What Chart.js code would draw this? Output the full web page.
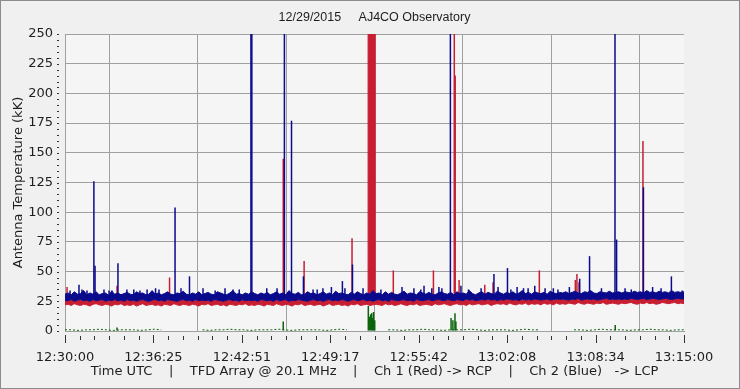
<!DOCTYPE html>
<html>
<head>
<meta charset="utf-8">
<script src="https://cdn.jsdelivr.net/npm/chart.js@4.4.1/dist/chart.umd.min.js"></script>
<style>
html,body{margin:0;padding:0;background:#f0f0f0;}
#wrap{width:740px;height:389px;position:relative;}
</style>
</head>
<body>
<div id="wrap"><canvas id="c" width="740" height="389"></canvas></div>
<script>
// ---------------- DATA ----------------
const chartTitle = '12/29/2015     AJ4CO Observatory';
const xAxisTitle = 'Time UTC    |    TFD Array @ 20.1 MHz    |    Ch 1 (Red) -> RCP    |    Ch 2 (Blue)   -> LCP';
const yAxisTitle = 'Antenna Temperature (kK)';
const xTickLabels = ['12:30:00','12:36:25','12:42:51','12:49:17','12:55:42','13:02:08','13:08:34','13:15:00'];
const spanSeconds = 2700;            // 12:30:00 -> 13:15:00
const yMax = 250;
const yStep = 25;

// Noise envelope samples (kK), evenly spaced over the 45 minutes
const bandStepSec = 2700 / 199;
const blueHigh = [
31,32,30.5,33,31,31.5,34,30.5,32,31,33,30.5,31.5,32,30,33.5,31,32,30.5,31.5,
32.5,31,30.5,33,31.5,32,30.5,31,34,31,32,30.5,31.5,33,31,30.5,32,31.5,33.5,31,
30.5,32,31,33,30.5,31.5,32.5,31,30.5,33,32,31,30.5,32,34,31,31.5,30.5,32,31,
33,31.5,30.5,32,31,32.5,30.5,31.5,33,31,32,30.5,34,31.5,31,32.5,30.5,31,33,31.5,
32,30.5,31.5,33,31,32,30.5,33.5,31.5,32,31,30.5,32.5,31,33,31.5,30.5,32,31,34,
31.5,32,30.5,33,31,32.5,31,30.5,32,33.5,31,32,31.5,30.5,33,32,31,32.5,31,30.5,
32,33,31.5,31,32.5,30.5,33,31.5,32,31,34,31.5,30.5,32,33,31,32.5,31.5,31,33.5,
32,31,32.5,31.5,33,31,32,34,31.5,32.5,31,33,32,31.5,32.5,31,33.5,32,31.5,32.5,
32,33,31.5,32.5,33.5,32,31.5,33,32.5,34,32,31.5,33,32.5,32,33.5,32,32.5,33,32,
33,32.5,32,33.5,32.5,33,32,34,32.5,33,32,33.5,32.5,33,32,34,32.5,33,32.5,33
];
const blueLow = [
26,25.5,26.5,25,26,26.5,25.5,26,25,26.5,25.5,26,26.5,25,26,25.5,26.5,25.5,26,25,
26.5,25.5,26,25,26,26.5,25.5,25,26,26.5,25.5,26,25,26.5,26,25.5,25,26,26.5,25.5,
26,25,26.5,25.5,26,25.5,26,25,26.5,26,25.5,25,26,26.5,25.5,26,25,26.5,25.5,26,
25.5,26,25,26.5,26,25.5,26,25,26.5,25.5,26,26.5,25,26,25.5,26.5,26,25.5,25,26,
26.5,25.5,26,25,26,26.5,25.5,26,25.5,26.5,26,25,26,26.5,25.5,26,26.5,25.5,26,25,
26,26.5,25.5,26,25,26.5,26,25.5,26,26.5,25.5,26,25,26.5,26,25.5,26,26.5,25.5,26,
26.5,26,25.5,26.5,26,25.5,26.5,26,25.5,27,26,26.5,25.5,26,26.5,26,27,26,26.5,25.5,
26.5,26,27,26.5,26,26.5,25.5,27,26,26.5,26,27,26.5,26,26.5,27,26,26.5,27,26.5,
27,26.5,26,27,26.5,27.5,26,26.5,27,26.5,27,26,26.5,27,27.5,26.5,27,26.5,27,26.5,
27,26.5,27.5,27,26.5,27,27.5,26.5,27,27.5,27,26.5,27,27.5,27,26.5,27,27.5,27,27
];
const redLow = [
22,22.5,21.5,23,22,21.5,22.5,22,21,22.5,23,22,21.5,22.5,22,21,22.5,22,23,21.5,
22,21.5,22.5,21,22,23,21.5,22,22.5,21.5,22,21,22.5,22,21.5,23,22,21.5,22.5,22,
21.5,22.5,22,21,22.5,22,23,21.5,22,22.5,21.5,22,21,22.5,22,21.5,22.5,22,23,21.5,
22,21.5,22.5,22,21,22.5,22,21.5,23,22,21.5,22.5,22,21,22.5,22,23,21.5,22,22.5,
21.5,22,22.5,21,22,23,21.5,22,22.5,21.5,22,21,22.5,22,23,21.5,22,22.5,21.5,22,
22.5,22,21.5,23,22,22.5,21.5,22,23,22,21.5,22.5,22,23,21.5,22,22.5,22,21.5,23,
22,22.5,23,22,21.5,22.5,23,22,22.5,21.5,23,22,22.5,23,22,22.5,23,21.5,22.5,23,
22.5,23,22,23.5,22.5,22,23,22.5,23.5,22,23,22.5,23,22,23.5,22.5,23,22,23.5,22.5,
23,22.5,23.5,23,22.5,24,23,22.5,23.5,23,22.5,23.5,23,24,22.5,23,23.5,23,22.5,23.5,
23,23.5,24,23,22.5,23.5,23,24,23,23.5,22.5,23,24,23.5,23,23.5,24,23,23.5,23
];

// Spikes: seconds after 12:30:00 and peak value (kK); >250 = off scale
const blueSpikeBase = 28;
const blueSpikeTimes = [61,126,131,231,300,395,480,543,602,655,698,760,811,815,880,957,988,1040,1100,1162,1210,1254,1300,1470,1552,1566,1600,1644,1681,1760,1871,1930,1972,2000,2049,2130,2200,2245,2288,2340,2399,2406,2470,2523,2563,2600,2645];
const blueSpikePeaks = [39,126,55,57,35,36,104,46,36,34,36,35,300,300,36,300,177,46,35,37,42,56,36,37,35,38,36,36,300,35,48,53,37,36,38,36,37,44,63,36,300,77,35,121,37,36,46];
const blueSmallSpikeTimes = [22,74,96,170,192,205,270,327,358,410,506,733,925,1082,1125,1221,1378,1522,1631,1727,1815,1889,1945,2020,2094,2150,2443,2692];
const blueSmallSpikePeaks = [34,35,34,35,34,34,35,34,35,35,36,35,36,35,36,36,35,36,37,38,36,37,35,36,36,35,36,34];

const redSpikeBase = 24;
const redSpikeTimes = [9,227,456,952,1043,1252,1432,1607,1698,1702,1719,1831,1867,2069,2226,2233,2242,2521];
const redSpikePeaks = [37,38,45,145,59,78,51,51,300,215,43,39,41,51,43,48,41,160];

// Red channel saturated interval
const redSatTimes = [1322,1322,1352,1352];
const redSatValues = [23,300,300,23];

// Ch 3 (green) baseline, one sample per 30 s, null = no data
const greenStepSec = 30;
const greenBase = [
1,1,0.5,1,1,1.5,1,0.5,1,1,1,0.5,1,1.5,1,
null,null,null,null,null,
1,0.5,1,1,1.5,1,1,0.5,1,1,1,1.5,1,0.5,1,1,1,1,0.5,1,1.5,1,
null,null,null,null,null,
1,1,0.5,1,1,1.5,1,1,0.5,1,1,1,1.5,1,0.5,1,1,1,0.5,1,1.5,1,1,
null,null,null,null,
1,1,0.5,1,1.5,1,1,1,0.5,1,1,1.5,1,1,0.5,1,1
];
const greenSpikeTimes = [227,952,1323,1327,1333,1338,1342,1346,1351,1684,1692,1701,1705,2400];
const greenSpikePeaks = [3,8,21,12,14,15,11,16,9,11,9,15,8,5];

// ---------------- BUILD ----------------
const BLUE = '#0a0a8c', RED = '#c81e32', GREEN = '#0b640b';
const txt = '#1e1e1e';
const axisFont = {family: "'DejaVu Sans', Verdana, sans-serif", size: 13};

const bandPts = arr => arr.map((v, i) => ({x: i * bandStepSec, y: v}));
const spikePts = (times, peaks, base) => times.map((t, i) => ({x: t, y: [base, peaks[i]]}));
const greenPts = greenBase.map((v, i) => ({x: i * greenStepSec, y: v}));
const satPts = redSatTimes.map((t, i) => ({x: t, y: redSatValues[i]}));

const spikeOpts = {type: 'bar', grouped: false, barPercentage: 10, categoryPercentage: 1, maxBarThickness: 1.5, borderWidth: 0};

const decor = {
  id: 'decor',
  beforeDraw(chart) {
    const {ctx, chartArea: a, width, height} = chart;
    ctx.save();
    ctx.fillStyle = '#f0f0f0';
    ctx.fillRect(0, 0, width, height);
    ctx.fillStyle = '#f5f5f5';
    ctx.fillRect(a.left, a.top, a.right - a.left, a.bottom - a.top);
    ctx.restore();
  },
  afterDraw(chart) {
    const {ctx, chartArea: a, scales: {x, y}, width, height} = chart;
    ctx.save();
    ctx.fillStyle = txt;
    ctx.font = "12.5px 'Liberation Sans', Arial, sans-serif";
    ctx.textAlign = 'center';
    ctx.textBaseline = 'middle';
    ctx.fillText(chartTitle, (a.left + a.right) / 2, 18);
    ctx.fillStyle = '#333';
    const nx = (xTickLabels.length - 1) * 6;
    for (let i = 0; i <= nx; i++) {
      const px = Math.round(x.getPixelForValue(i * spanSeconds / nx));
      if (i % 6 === 0) ctx.fillRect(px, a.bottom + 4, 1, 8);
      else ctx.fillRect(px, a.bottom + 5, 1, 4);
    }
    for (let v = 0; v <= yMax; v += 5) {
      const py = Math.round(y.getPixelForValue(v));
      ctx.fillRect(a.left - 8, py, 2, 1);
    }
    ctx.strokeStyle = '#8c8c8c';
    ctx.lineWidth = 1;
    ctx.strokeRect(0.5, 0.5, width - 1, height - 1);
    ctx.restore();
  }
};

new Chart(document.getElementById('c'), {
  type: 'line',
  data: {
    datasets: [
      {label: 'Ch 1 saturated', data: satPts, borderColor: RED, backgroundColor: RED, borderWidth: 1, pointRadius: 0, fill: {value: 23}, order: 9},
      {label: 'Ch 1 (RCP) low', data: bandPts(redLow), borderColor: RED, backgroundColor: RED, borderWidth: 1, pointRadius: 0, tension: 0, fill: 4, order: 8},
      Object.assign({label: 'Ch 1 spikes', data: spikePts(redSpikeTimes, redSpikePeaks, redSpikeBase), backgroundColor: RED, order: 7}, spikeOpts),
      {label: 'Ch 2 (LCP) high', data: bandPts(blueHigh), borderColor: BLUE, backgroundColor: BLUE, borderWidth: 1, pointRadius: 0, tension: 0, fill: '+1', order: 5},
      {label: 'Ch 2 (LCP) low', data: bandPts(blueLow), borderColor: BLUE, borderWidth: 1, pointRadius: 0, tension: 0, fill: false, order: 6},
      Object.assign({label: 'Ch 2 spikes', data: spikePts(blueSpikeTimes, blueSpikePeaks, blueSpikeBase), backgroundColor: BLUE, order: 4}, spikeOpts),
      Object.assign({label: 'Ch 2 small spikes', data: spikePts(blueSmallSpikeTimes, blueSmallSpikePeaks, blueSpikeBase), backgroundColor: BLUE, order: 3}, spikeOpts),
      {label: 'Ch 3', data: greenPts, borderColor: GREEN, borderWidth: 1, borderDash: [2, 2], pointRadius: 0, spanGaps: false, fill: false, order: 2},
      Object.assign({label: 'Ch 3 spikes', data: spikePts(greenSpikeTimes, greenSpikePeaks, 0), backgroundColor: GREEN, order: 1}, spikeOpts)
    ]
  },
  options: {
    responsive: false,
    animation: false,
    events: [],
    devicePixelRatio: 1,
    layout: {padding: {top: 34, right: 56, bottom: 0, left: 0}},
    plugins: {legend: {display: false}, tooltip: {enabled: false}, title: {display: false}, filler: {propagate: false}},
    scales: {
      x: {
        type: 'linear', min: 0, max: spanSeconds, offset: false,
        afterBuildTicks: s => { s.ticks = xTickLabels.map((_, i) => ({value: i * spanSeconds / (xTickLabels.length - 1)})); },
        afterFit: s => { s.height = 58; },
        ticks: {autoSkip: false, maxRotation: 0, padding: 19, color: txt, font: axisFont, callback: (v, i) => xTickLabels[i]},
        grid: {color: '#a0a0a0', drawTicks: false},
        border: {color: '#a0a0a0'},
        title: {display: true, text: xAxisTitle, color: txt, font: axisFont, padding: {top: 0, bottom: 10}}
      },
      y: {
        min: 0, max: yMax,
        afterFit: s => { s.width = 65; },
        ticks: {stepSize: yStep, padding: 12, color: txt, font: axisFont},
        grid: {color: '#a0a0a0', drawTicks: false},
        border: {color: '#a0a0a0'},
        title: {display: true, text: yAxisTitle, color: txt, font: axisFont, padding: {top: 11, bottom: 0}}
      }
    }
  },
  plugins: [decor]
});
</script>
</body>
</html>
